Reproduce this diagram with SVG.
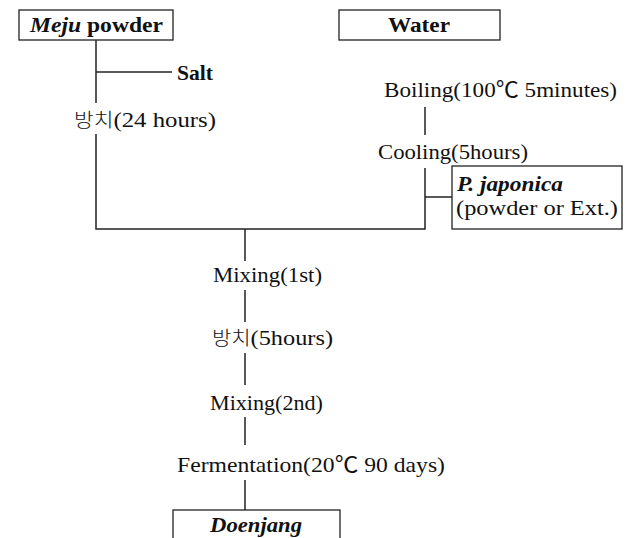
<svg xmlns="http://www.w3.org/2000/svg" width="630" height="538" viewBox="0 0 630 538">
<style>
.t{font-family:"Liberation Serif","Noto Sans CJK KR",serif;font-size:22px;fill:#111}
.s{font-size:20px}
.k{font-size:19px;font-weight:300}
.b{font-weight:bold}
.bi{font-weight:bold;font-style:italic}
.box{fill:#fff;stroke:#222;stroke-width:1.3}
.ln{stroke:#222;stroke-width:1.5;fill:none}
</style>
<rect width="630" height="538" fill="#fff"/>
<g id="connectors">
<path class="ln" d="M96,40 V103"/>
<path class="ln" d="M96,72 H172"/>
<path class="ln" d="M96,134 V229 H425 V168"/>
<path class="ln" d="M425,107 V135"/>
<path class="ln" d="M425,197 H452"/>
<path class="ln" d="M245,229 V261"/>
<path class="ln" d="M245,290 V322"/>
<path class="ln" d="M245,353 V385"/>
<path class="ln" d="M245,417 V445"/>
<path class="ln" d="M245,480 V510"/>
</g>
<g id="meju">
<rect class="box" x="19" y="10" width="154" height="30"/>
<text class="t b" x="30" y="32" textLength="133" lengthAdjust="spacingAndGlyphs"><tspan class="bi">Meju</tspan> powder</text>
</g>
<g id="water">
<rect class="box" x="339" y="10" width="161" height="30"/>
<text class="t b" x="388" y="32" textLength="62" lengthAdjust="spacingAndGlyphs">Water</text>
</g>
<g id="salt">
<text class="t b" x="177" y="80" textLength="36" lengthAdjust="spacingAndGlyphs">Salt</text>
</g>
<g id="standing24">
<text class="t" x="74" y="127" textLength="142" lengthAdjust="spacingAndGlyphs"><tspan class="k">방치</tspan>(24 hours)</text>
</g>
<g id="boiling">
<text class="t" x="384" y="97" textLength="233" lengthAdjust="spacingAndGlyphs">Boiling(100℃ 5minutes)</text>
</g>
<g id="cooling">
<text class="t" x="378" y="159" textLength="150" lengthAdjust="spacingAndGlyphs">Cooling(5hours)</text>
</g>
<g id="japonica">
<rect class="box" x="452" y="166" width="170" height="63"/>
<text class="t s bi" x="457" y="191" textLength="106" lengthAdjust="spacingAndGlyphs">P. japonica</text>
<text class="t s" x="456" y="215" textLength="162" lengthAdjust="spacingAndGlyphs">(powder or Ext.)</text>
</g>
<g id="mixing1">
<text class="t" x="213" y="282" textLength="109" lengthAdjust="spacingAndGlyphs">Mixing(1st)</text>
</g>
<g id="standing5">
<text class="t" x="212" y="345" textLength="121" lengthAdjust="spacingAndGlyphs"><tspan class="k">방치</tspan>(5hours)</text>
</g>
<g id="mixing2">
<text class="t" x="210" y="410" textLength="113" lengthAdjust="spacingAndGlyphs">Mixing(2nd)</text>
</g>
<g id="fermentation">
<text class="t" x="177" y="472" textLength="268" lengthAdjust="spacingAndGlyphs">Fermentation(20℃ 90 days)</text>
</g>
<g id="doenjang">
<rect class="box" x="173" y="510" width="167" height="40"/>
<text class="t bi" x="210" y="532" textLength="92" lengthAdjust="spacingAndGlyphs">Doenjang</text>
</g>
</svg>
